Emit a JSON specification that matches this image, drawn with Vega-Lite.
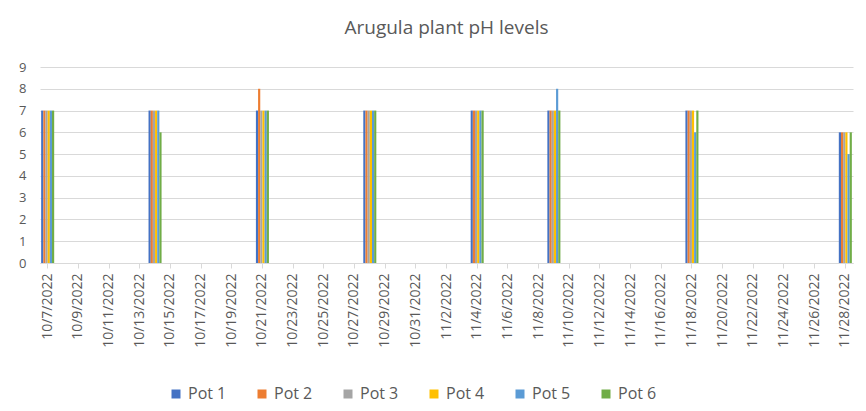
{
  "$schema": "https://vega.github.io/schema/vega-lite/v6.json",
  "autosize": {"type": "none"},
  "width": 813,
  "height": 196,
  "padding": {"left": 40, "top": 67, "right": 13, "bottom": 148},
  "background": "#ffffff",
  "title": {"text": "Arugula plant pH levels", "fontSize": 19, "font": "Open Sans", "fontWeight": "normal", "color": "#595959", "offset": 23, "anchor": "middle"},
  "config": {
    "view": {"stroke": null},
    "font": "Open Sans"
  },
  "data": {"values": [
    {"date": "10/7/2022", "pot": "Pot 1", "ph": 7}, {"date": "10/7/2022", "pot": "Pot 2", "ph": 7}, {"date": "10/7/2022", "pot": "Pot 3", "ph": 7}, {"date": "10/7/2022", "pot": "Pot 4", "ph": 7}, {"date": "10/7/2022", "pot": "Pot 5", "ph": 7}, {"date": "10/7/2022", "pot": "Pot 6", "ph": 7},
    {"date": "10/14/2022", "pot": "Pot 1", "ph": 7}, {"date": "10/14/2022", "pot": "Pot 2", "ph": 7}, {"date": "10/14/2022", "pot": "Pot 3", "ph": 7}, {"date": "10/14/2022", "pot": "Pot 4", "ph": 7}, {"date": "10/14/2022", "pot": "Pot 5", "ph": 7}, {"date": "10/14/2022", "pot": "Pot 6", "ph": 6},
    {"date": "10/21/2022", "pot": "Pot 1", "ph": 7}, {"date": "10/21/2022", "pot": "Pot 2", "ph": 8}, {"date": "10/21/2022", "pot": "Pot 3", "ph": 7}, {"date": "10/21/2022", "pot": "Pot 4", "ph": 7}, {"date": "10/21/2022", "pot": "Pot 5", "ph": 7}, {"date": "10/21/2022", "pot": "Pot 6", "ph": 7},
    {"date": "10/28/2022", "pot": "Pot 1", "ph": 7}, {"date": "10/28/2022", "pot": "Pot 2", "ph": 7}, {"date": "10/28/2022", "pot": "Pot 3", "ph": 7}, {"date": "10/28/2022", "pot": "Pot 4", "ph": 7}, {"date": "10/28/2022", "pot": "Pot 5", "ph": 7}, {"date": "10/28/2022", "pot": "Pot 6", "ph": 7},
    {"date": "11/4/2022", "pot": "Pot 1", "ph": 7}, {"date": "11/4/2022", "pot": "Pot 2", "ph": 7}, {"date": "11/4/2022", "pot": "Pot 3", "ph": 7}, {"date": "11/4/2022", "pot": "Pot 4", "ph": 7}, {"date": "11/4/2022", "pot": "Pot 5", "ph": 7}, {"date": "11/4/2022", "pot": "Pot 6", "ph": 7},
    {"date": "11/9/2022", "pot": "Pot 1", "ph": 7}, {"date": "11/9/2022", "pot": "Pot 2", "ph": 7}, {"date": "11/9/2022", "pot": "Pot 3", "ph": 7}, {"date": "11/9/2022", "pot": "Pot 4", "ph": 7}, {"date": "11/9/2022", "pot": "Pot 5", "ph": 8}, {"date": "11/9/2022", "pot": "Pot 6", "ph": 7},
    {"date": "11/18/2022", "pot": "Pot 1", "ph": 7}, {"date": "11/18/2022", "pot": "Pot 2", "ph": 7}, {"date": "11/18/2022", "pot": "Pot 3", "ph": 7}, {"date": "11/18/2022", "pot": "Pot 4", "ph": 7}, {"date": "11/18/2022", "pot": "Pot 5", "ph": 6}, {"date": "11/18/2022", "pot": "Pot 6", "ph": 7},
    {"date": "11/28/2022", "pot": "Pot 1", "ph": 6}, {"date": "11/28/2022", "pot": "Pot 2", "ph": 6}, {"date": "11/28/2022", "pot": "Pot 3", "ph": 6}, {"date": "11/28/2022", "pot": "Pot 4", "ph": 6}, {"date": "11/28/2022", "pot": "Pot 5", "ph": 5}, {"date": "11/28/2022", "pot": "Pot 6", "ph": 6}
  ]},
  "mark": {"type": "bar"},
  "encoding": {
    "x": {
      "field": "date", "type": "ordinal", "title": null,
      "scale": {
        "domain": ["10/7/2022","10/8/2022","10/9/2022","10/10/2022","10/11/2022","10/12/2022","10/13/2022","10/14/2022","10/15/2022","10/16/2022","10/17/2022","10/18/2022","10/19/2022","10/20/2022","10/21/2022","10/22/2022","10/23/2022","10/24/2022","10/25/2022","10/26/2022","10/27/2022","10/28/2022","10/29/2022","10/30/2022","10/31/2022","11/1/2022","11/2/2022","11/3/2022","11/4/2022","11/5/2022","11/6/2022","11/7/2022","11/8/2022","11/9/2022","11/10/2022","11/11/2022","11/12/2022","11/13/2022","11/14/2022","11/15/2022","11/16/2022","11/17/2022","11/18/2022","11/19/2022","11/20/2022","11/21/2022","11/22/2022","11/23/2022","11/24/2022","11/25/2022","11/26/2022","11/27/2022","11/28/2022"],
        "paddingInner": 0.15, "paddingOuter": 0.075
      },
      "axis": {
        "values": ["10/7/2022","10/9/2022","10/11/2022","10/13/2022","10/15/2022","10/17/2022","10/19/2022","10/21/2022","10/23/2022","10/25/2022","10/27/2022","10/29/2022","10/31/2022","11/2/2022","11/4/2022","11/6/2022","11/8/2022","11/10/2022","11/12/2022","11/14/2022","11/16/2022","11/18/2022","11/20/2022","11/22/2022","11/24/2022","11/26/2022","11/28/2022"],
        "labelAngle": -90, "labelFontSize": 14, "labelColor": "#595959", "labelPadding": 5,
        "domainColor": "#D9D9D9", "tickColor": "#D9D9D9", "tickSize": 5, "grid": false
      }
    },
    "xOffset": {"field": "pot", "type": "nominal", "scale": {"paddingInner": 0, "paddingOuter": 0}},
    "y": {
      "field": "ph", "type": "quantitative", "title": null,
      "scale": {"domain": [0, 9], "nice": false},
      "axis": {"values": [0,1,2,3,4,5,6,7,8,9], "labelFontSize": 13, "labelColor": "#595959", "labelPadding": 14, "ticks": false, "domain": false, "gridColor": "#D9D9D9"}
    },
    "color": {
      "field": "pot", "type": "nominal",
      "scale": {"domain": ["Pot 1","Pot 2","Pot 3","Pot 4","Pot 5","Pot 6"], "range": ["#4472C4","#ED7D31","#A5A5A5","#FFC000","#5B9BD5","#70AD47"]},
      "legend": {"title": null, "orient": "none", "legendX": 128, "legendY": 319, "direction": "horizontal", "symbolType": "square", "symbolSize": 81, "labelFontSize": 16, "labelColor": "#595959", "columnPadding": 27, "labelOffset": 4, "symbolStrokeWidth": 0}
    }
  }
}
